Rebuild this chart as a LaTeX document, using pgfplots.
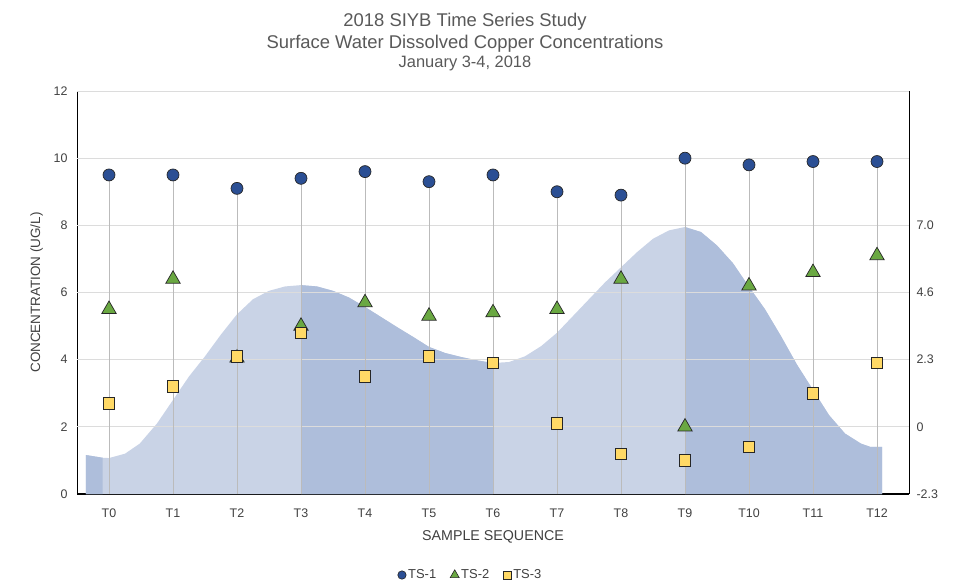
\documentclass[border=0pt]{standalone}
\usepackage{pgfplots}
\pgfplotsset{compat=1.18}
\usepackage{fontspec}
\setmainfont{Liberation Sans}
\definecolor{tidelight}{HTML}{C9D3E6}
\definecolor{tidedark}{HTML}{AEBEDB}
\definecolor{tsone}{HTML}{2B4F94}
\definecolor{tstwo}{HTML}{6AA842}
\definecolor{tsthree}{HTML}{FFD966}
\definecolor{gridc}{HTML}{DCDCDC}
\definecolor{txtc}{HTML}{404040}
\definecolor{titc}{HTML}{595959}
\begin{document}
\begin{tikzpicture}
\useasboundingbox (-77bp,-91bp) rectangle (876bp,494bp);
\begin{axis}[
  scale only axis, width=832bp, height=403bp,
  xmin=-0.5, xmax=12.5, ymin=0, ymax=12,
  axis x line*=bottom, axis y line*=left,
  x axis line style={line width=1.6pt, -},
  y axis line style={line width=0.9pt, -},
  xtick={0,...,12},
  xticklabels={T0,T1,T2,T3,T4,T5,T6,T7,T8,T9,T10,T11,T12},
  ytick={0,2,...,12},
  major tick length=0pt,
  tick label style={font=\fontsize{12.5}{14}\selectfont, text=txtc},
  /pgf/number format/assume math mode=true,
  xticklabel style={yshift=-11bp},
  yticklabel style={xshift=-6bp},
  xlabel={SAMPLE SEQUENCE},
  xlabel style={font=\fontsize{14.3}{16}\selectfont, text=txtc, yshift=-6bp},
  ylabel={CONCENTRATION (UG/L)},
  ylabel style={font=\fontsize{13.5}{15}\selectfont, text=txtc, yshift=4bp},
  clip=false,
  legend columns=3,
  legend style={draw=none, at={(0.473,-0.201)}, anchor=center,
    font=\fontsize{13}{15}\selectfont, text=txtc,
    /tikz/every even column/.append style={column sep=12bp}},
  legend cell align=left,
]
% tide area
\addplot[fill=tidelight, draw=none, forget plot] table {
x y
-0.36 1.16
-0.1 1.08
0 1.07
0.25 1.2
0.48 1.5
0.75 2.1
1.0 2.8
1.25 3.5
1.5 4.1
1.75 4.75
2.0 5.35
2.25 5.8
2.5 6.05
2.75 6.18
3.0 6.22
3.25 6.18
3.5 6.05
3.75 5.85
4.0 5.57
4.25 5.27
4.5 4.97
4.75 4.68
5.0 4.38
5.25 4.2
5.5 4.08
5.75 3.98
6.0 3.9
6.25 3.93
6.5 4.1
6.75 4.4
7.0 4.8
7.25 5.3
7.5 5.8
7.75 6.3
8.0 6.75
8.25 7.2
8.5 7.6
8.75 7.85
9.0 7.95
9.25 7.8
9.5 7.4
9.75 6.87
10.0 6.17
10.25 5.5
10.5 4.7
10.75 3.85
11.0 3.1
11.25 2.35
11.5 1.8
11.75 1.5
11.9 1.4
12.08 1.4
} \closedcycle;
\addplot[fill=tidedark, draw=none, forget plot] table {
x y
-0.36 1.16
-0.1 1.08
} \closedcycle;
\addplot[fill=tidedark, draw=none, forget plot] table {
x y
3.0 6.22
3.25 6.18
3.5 6.05
3.75 5.85
4.0 5.57
4.25 5.27
4.5 4.97
4.75 4.68
5.0 4.38
5.25 4.2
5.5 4.08
5.75 3.98
6.0 3.9
} \closedcycle;
\addplot[fill=tidedark, draw=none, forget plot] table {
x y
9.0 7.95
9.25 7.8
9.5 7.4
9.75 6.87
10.0 6.17
10.25 5.5
10.5 4.7
10.75 3.85
11.0 3.1
11.25 2.35
11.5 1.8
11.75 1.5
11.9 1.4
12.08 1.4
} \closedcycle;
% grid lines
\pgfplotsinvokeforeach{2,4,6,8,10,12}{
  \draw[gridc, line width=0.9pt] (axis cs:-0.5,#1) -- (axis cs:12.5,#1);
}
% drop lines
\addplot[ycomb, draw=gridc!85!black, line width=0.6pt, no marks, forget plot] table {
x y
0 9.5
1 9.5
2 9.1
3 9.4
4 9.6
5 9.3
6 9.5
7 9.0
8 8.9
9 10.0
10 9.8
11 9.9
12 9.9
};
% TS-1
\addplot[only marks, mark=*, mark size=6bp, mark options={fill=tsone, draw=black!85, line width=0.7pt}, forget plot] table {
x y
0 9.5
1 9.5
2 9.1
3 9.4
4 9.6
5 9.3
6 9.5
7 9.0
8 8.9
9 10.0
10 9.8
11 9.9
12 9.9
};
% TS-2
\addplot[only marks, mark=triangle*, mark size=8.3bp, mark options={fill=tstwo, draw=black!85, line width=0.7pt}, forget plot] table {
x y
0 5.5
1 6.4
2 4.05
3 5.0
4 5.7
5 5.3
6 5.4
7 5.5
8 6.4
9 2.0
10 6.2
11 6.6
12 7.1
};
% TS-3
\addplot[only marks, mark=square*, mark size=5.8bp, mark options={fill=tsthree, draw=black!85, line width=0.7pt}, forget plot] table {
x y
0 2.7
1 3.2
2 4.1
3 4.8
4 3.5
5 4.1
6 3.9
7 2.1
8 1.2
9 1.0
10 1.4
11 3.0
12 3.9
};
\addlegendimage{only marks, mark=*, mark size=4.2bp, mark options={fill=tsone, draw=black!85, line width=0.6pt}}
\addlegendentry{TS-1}
\addlegendimage{only marks, mark=triangle*, mark size=5.2bp, mark options={fill=tstwo, draw=black!85, line width=0.6pt}}
\addlegendentry{TS-2}
\addlegendimage{only marks, mark=square*, mark size=4bp, mark options={fill=tsthree, draw=black!85, line width=0.6pt}}
\addlegendentry{TS-3}
\end{axis}
\begin{axis}[
  scale only axis, width=832bp, height=403bp,
  xmin=-0.5, xmax=12.5, ymin=0, ymax=12,
  axis x line=none, axis y line*=right,
  y axis line style={line width=0.9pt, -},
  ytick={0,2,4,6,8},
  yticklabels={-2.3,0,2.3,4.6,7.0},
  major tick length=0pt,
  tick label style={font=\fontsize{12.5}{14}\selectfont, text=txtc},
  yticklabel style={xshift=4bp},
]
\addplot[draw=none, forget plot] coordinates {(0,0)};
\end{axis}
\node[text=titc, font=\fontsize{18.5}{20}\selectfont] at (388bp,472bp) {2018 SIYB Time Series Study};
\node[text=titc, font=\fontsize{18.5}{20}\selectfont] at (388bp,450bp) {Surface Water Dissolved Copper Concentrations};
\node[text=titc, font=\fontsize{16.5}{18}\selectfont] at (388bp,431bp) {January 3-4, 2018};
\end{tikzpicture}
\end{document}
